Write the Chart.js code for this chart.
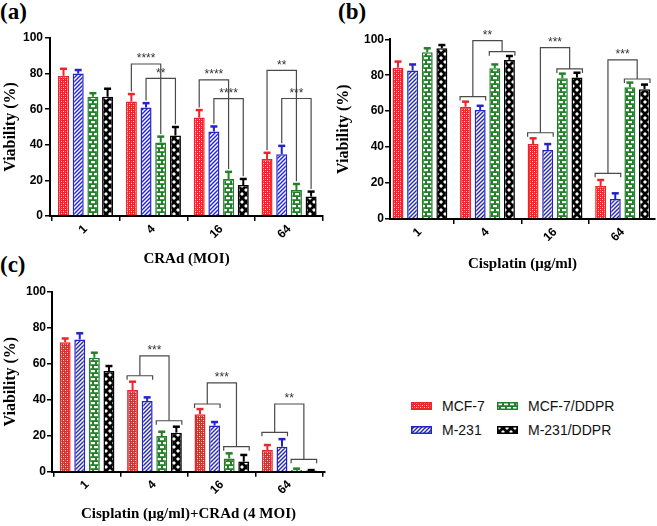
<!DOCTYPE html>
<html><head><meta charset="utf-8">
<script src="https://cdn.jsdelivr.net/npm/chart.js@4.4.1/dist/chart.umd.min.js"></script>
<style>
html,body{margin:0;padding:0;background:#fff}
body{width:657px;height:526px;overflow:hidden;position:relative;font-family:"Liberation Sans",Arial,sans-serif}
canvas.panel{position:absolute}
.plabel{position:absolute;font-family:"Liberation Serif","Times New Roman",serif;font-weight:bold;font-size:23px;line-height:1;color:#000}
.ltext{position:absolute;font-family:"Liberation Sans",Arial,sans-serif;font-size:14px;line-height:1;color:#111;white-space:nowrap}
.lsw{position:absolute}
</style></head>
<body>
<div class="plabel" style="left:0px;top:0px">(a)</div>
<div class="plabel" style="left:338px;top:0px">(b)</div>
<div class="plabel" style="left:0px;top:253px">(c)</div>
<canvas id="ca" class="panel" style="left:0px;top:0px" width="330" height="272"></canvas>
<canvas id="cb" class="panel" style="left:327px;top:0px" width="330" height="275"></canvas>
<canvas id="cc" class="panel" style="left:0px;top:265px" width="330" height="261"></canvas>
<div id="legend"></div>
<script>
// ---------- shared categories / series ----------
const groupLabels = ['1', '4', '16', '64'];
const seriesNames = ['MCF-7', 'M-231', 'MCF-7/DDPR', 'M-231/DDPR'];
const seriesColors = ['#e8262b', '#2323c8', '#23802a', '#000000'];

// ---------- panel (a): CRAd (MOI) ----------
const a_mcf7  = [78.8, 64.3, 55.3, 32.0];
const a_m231  = [80.0, 61.0, 47.5, 34.7];
const a_mcf7d = [67.0, 41.3, 20.8, 14.6];
const a_m231d = [67.0, 45.2, 17.4, 10.9];
const a_mcf7_sd  = [3.9, 4.2, 4.2, 3.5];
const a_m231_sd  = [2.0, 2.4, 2.8, 4.7];
const a_mcf7d_sd = [2.0, 3.3, 4.0, 3.4];
const a_m231d_sd = [4.5, 4.8, 3.4, 2.8];
// significance brackets: group, from series, to series, bracket height, stars
const a_brackets = [
  {g: 1, from: 0, to: 2, y: 85.4, label: '****'},
  {g: 1, from: 1, to: 3, y: 77.3, label: '**'},
  {g: 2, from: 0, to: 2, y: 76.5, label: '****'},
  {g: 2, from: 1, to: 3, y: 65.9, label: '****'},
  {g: 3, from: 0, to: 2, y: 81.8, label: '**'},
  {g: 3, from: 1, to: 3, y: 66.0, label: '***'}
];

// ---------- panel (b): Cisplatin (µg/ml) ----------
const b_mcf7  = [84.2, 62.5, 41.7, 18.4];
const b_m231  = [82.6, 60.7, 38.4, 11.1];
const b_mcf7d = [92.8, 83.9, 78.3, 73.3];
const b_m231d = [95.0, 88.5, 78.7, 72.2];
const b_mcf7_sd  = [3.4, 2.8, 3.2, 3.3];
const b_m231_sd  = [3.4, 2.3, 3.3, 3.2];
const b_mcf7d_sd = [2.2, 2.1, 2.6, 2.6];
const b_m231d_sd = [1.8, 2.2, 2.7, 2.6];
// pair brackets: group, height over (MCF-7,M-231), height over (DDPR pair), connector height, stars
const b_brackets = [
  {g: 1, yA: 68.1, yB: 93.1, top: 99.3, label: '**'},
  {g: 2, yA: 48.0, yB: 83.5, top: 95.4, label: '***'},
  {g: 3, yA: 25.4, yB: 77.9, top: 88.5, label: '***'}
];

// ---------- panel (c): Cisplatin (µg/ml)+CRAd (4 MOI) ----------
const c_mcf7  = [71.9, 45.4, 31.9, 12.0];
const c_m231  = [73.5, 39.3, 25.6, 13.9];
const c_mcf7d = [63.3, 19.8, 7.4, 0.9];
const c_m231d = [55.9, 21.7, 5.6, 0.6];
const c_mcf7_sd  = [2.1, 4.6, 2.9, 2.8];
const c_m231_sd  = [3.4, 2.0, 2.0, 4.2];
const c_mcf7d_sd = [2.8, 2.4, 2.8, 0.8];
const c_m231d_sd = [2.8, 3.3, 3.7, 0.3];
const c_brackets = [
  {g: 1, yA: 53.3, yB: 28.3, top: 64.3, label: '***'},
  {g: 2, yA: 37.6, yB: 13.9, top: 49.4, label: '***'},
  {g: 3, yA: 21.9, yB: 6.9,  top: 37.6, label: '**'}
];

// ---------- fill patterns ----------
function makeTile(kind, color) {
  const t = document.createElement('canvas');
  const c = t.getContext('2d');
  if (kind === 'check') {
    t.width = 4; t.height = 4;
    c.fillStyle = color; c.fillRect(0, 0, 4, 4);
    c.fillStyle = 'rgba(255,255,255,0.85)';
    c.fillRect(1, 1, 1, 1); c.fillRect(3, 3, 1, 1);
    c.fillStyle = 'rgba(255,255,255,0.35)';
    c.fillRect(3, 1, 1, 1); c.fillRect(1, 3, 1, 1);
  } else if (kind === 'diag') {
    t.width = 4; t.height = 4;
    c.fillStyle = '#fff'; c.fillRect(0, 0, 4, 4);
    c.strokeStyle = color; c.lineWidth = 1.4;
    c.beginPath();
    c.moveTo(-1, 5); c.lineTo(5, -1);
    c.moveTo(-3, 3); c.lineTo(3, -3);
    c.moveTo(1, 7); c.lineTo(7, 1);
    c.stroke();
  } else if (kind === 'brick') {
    t.width = 6; t.height = 8;
    c.fillStyle = color; c.fillRect(0, 0, 6, 8);
    c.fillStyle = '#fff';
    c.fillRect(1, 1, 4, 2.2);
    c.fillRect(-2, 5, 4, 2.2); c.fillRect(4, 5, 4, 2.2);
  } else {
    t.width = 8; t.height = 8;
    c.fillStyle = color; c.fillRect(0, 0, 8, 8);
    c.fillStyle = '#fff';
    const dia = (x, y, r) => { c.beginPath(); c.moveTo(x, y - r); c.lineTo(x + r, y); c.lineTo(x, y + r); c.lineTo(x - r, y); c.closePath(); c.fill(); };
    dia(2, 2, 2); dia(6, 6, 2);
  }
  return t;
}
const patternKinds = ['check', 'diag', 'brick', 'dots'];
const patCtx = document.createElement('canvas').getContext('2d');
const patterns = patternKinds.map((k, i) => patCtx.createPattern(makeTile(k, seriesColors[i]), 'repeat'));

// ---------- plugins ----------
const errorBars = {
  id: 'errorBars',
  afterDatasetsDraw(chart) {
    const ctx = chart.ctx, ys = chart.scales.y;
    chart.data.datasets.forEach((ds, i) => {
      chart.getDatasetMeta(i).data.forEach((bar, j) => {
        const yt = ys.getPixelForValue(ds.data[j].y + ds.sd[j]);
        ctx.save();
        ctx.strokeStyle = ds.borderColor;
        ctx.lineWidth = 2;
        ctx.beginPath(); ctx.moveTo(bar.x, bar.y); ctx.lineTo(bar.x, yt); ctx.stroke();
        ctx.lineWidth = 2.5;
        ctx.beginPath(); ctx.moveTo(bar.x - 3.5, yt); ctx.lineTo(bar.x + 3.5, yt); ctx.stroke();
        ctx.restore();
      });
    });
  }
};

function bracketPlugin(items, mode) {
  return {
    id: 'brackets',
    afterDraw(chart) {
      const ctx = chart.ctx, ys = chart.scales.y;
      const bar = (s, g) => chart.getDatasetMeta(s).data[g];
      const errTop = (s, g) => { const d = chart.data.datasets[s]; return d.data[g].y + d.sd[g]; };
      ctx.save();
      ctx.strokeStyle = '#4a4a4a';
      ctx.lineWidth = 1.2;
      ctx.fillStyle = '#333';
      ctx.font = '12px "Liberation Sans", Arial, sans-serif';
      ctx.textAlign = 'center';
      ctx.textBaseline = 'bottom';
      items.forEach(b => {
        let x1, x2, y1, y2;
        const yt = ys.getPixelForValue(b.top !== undefined ? b.top : b.y);
        if (mode === 'span') {
          x1 = bar(b.from, b.g).x; x2 = bar(b.to, b.g).x;
          y1 = ys.getPixelForValue(errTop(b.from, b.g) + 1.5);
          y2 = ys.getPixelForValue(errTop(b.to, b.g) + 1.5);
        } else {
          const pair = (s1, s2, yv) => {
            const l = bar(s1, b.g).x - bar(s1, b.g).width / 2;
            const r = bar(s2, b.g).x + bar(s2, b.g).width / 2;
            const y = ys.getPixelForValue(yv);
            ctx.beginPath();
            ctx.moveTo(l, y + 4); ctx.lineTo(l, y); ctx.lineTo(r, y); ctx.lineTo(r, y + 4);
            ctx.stroke();
            return [(l + r) / 2, y];
          };
          [x1, y1] = pair(0, 1, b.yA);
          [x2, y2] = pair(2, 3, b.yB);
        }
        ctx.beginPath();
        ctx.moveTo(x1, y1); ctx.lineTo(x1, yt); ctx.lineTo(x2, yt); ctx.lineTo(x2, y2);
        ctx.stroke();
        ctx.fillText(b.label, (x1 + x2) / 2, yt + 1);
      });
      ctx.restore();
    }
  };
}

// ---------- chart builder ----------
function buildChart(id, values, sds, brackets, mode, cfg) {
  const axisFont = {family: '"Liberation Sans", Arial, sans-serif', weight: 'bold', size: 12};
  const titleFont = {family: '"Liberation Serif", "Times New Roman", serif', weight: 'bold', size: 15, lineHeight: 1.2};
  return new Chart(document.getElementById(id), {
    type: 'bar',
    data: {
      datasets: seriesNames.map((n, i) => ({
        label: n,
        data: values[i].map((v, j) => ({x: j, y: v})),
        sd: sds[i],
        backgroundColor: patterns[i],
        borderColor: seriesColors[i],
        borderWidth: 1.5,
        borderSkipped: 'start',
        categoryPercentage: 0.866,
        barPercentage: 0.75
      }))
    },
    options: {
      responsive: false,
      animation: false,
      events: [],
      layout: {padding: {top: cfg.top, right: cfg.right, left: 0, bottom: 0}},
      plugins: {legend: {display: false}, tooltip: {enabled: false}},
      scales: {
        x: {
          type: 'linear', min: cfg.xMin, max: cfg.xMax, offset: false,
          afterBuildTicks: s => { s.ticks = groupLabels.map((_, i) => ({value: i})); },
          afterFit: s => { s.height = cfg.xh; },
          ticks: {callback: v => groupLabels[v], minRotation: 45, maxRotation: 45, autoSkip: false,
                  padding: 1, color: '#000', font: axisFont},
          grid: {display: true, drawOnChartArea: false, drawTicks: true, tickLength: 5, color: '#000', lineWidth: 1.5},
          border: {display: true, color: '#000', width: 2},
          title: {display: true, text: cfg.xTitle, color: '#000', font: titleFont, padding: {top: 0, bottom: cfg.xtp}}
        },
        y: {
          min: 0, max: 100,
          afterFit: s => { s.width = cfg.yw; },
          ticks: {stepSize: 20, padding: cfg.ytickPad, color: '#000', font: axisFont},
          grid: {display: true, drawOnChartArea: false, drawTicks: true, tickLength: 5, color: '#000', lineWidth: 1.5},
          border: {display: true, color: '#000', width: 2},
          title: {display: true, text: 'Viability (%)', color: '#000',
                  font: {family: '"Liberation Serif", "Times New Roman", serif', weight: 'bold', size: 16, lineHeight: 1.2},
                  padding: {top: cfg.ytp, bottom: 0}}
        }
      }
    },
    plugins: [errorBars, bracketPlugin(brackets, mode)]
  });
}

buildChart('ca',
  [a_mcf7, a_m231, a_mcf7d, a_m231d],
  [a_mcf7_sd, a_m231_sd, a_mcf7d_sd, a_m231d_sd],
  a_brackets, 'span',
  {xMin: -0.524, xMax: 3.50, top: 38, right: 7, yw: 50, xh: 56, xtp: 4, ytp: 1.4, ytickPad: 2, xTitle: 'CRAd (MOI)'});

buildChart('cb',
  [b_mcf7, b_m231, b_mcf7d, b_m231d],
  [b_mcf7_sd, b_m231_sd, b_mcf7d_sd, b_m231d_sd],
  b_brackets, 'pair',
  {xMin: -0.443, xMax: 3.48, top: 39.3, right: 2, yw: 63, xh: 56, xtp: 2, ytp: 7, ytickPad: 1, xTitle: 'Cisplatin (\u03bcg/ml)'});

buildChart('cc',
  [c_mcf7, c_m231, c_mcf7d, c_m231d],
  [c_mcf7_sd, c_m231_sd, c_mcf7d_sd, c_m231d_sd],
  c_brackets, 'pair',
  {xMin: -0.52, xMax: 3.53, top: 26.7, right: 5, yw: 52, xh: 54.3, xtp: 3, ytp: 1.4, ytickPad: 1, xTitle: 'Cisplatin (\u03bcg/ml)+CRAd (4 MOI)'});

// ---------- legend (2 x 2) ----------
const legend = document.getElementById('legend');
seriesNames.forEach((n, i) => {
  const col = Math.floor(i / 2), row = i % 2;
  const sx = 411 + col * 86, cy = 406 + row * 24;
  const sw = document.createElement('canvas');
  sw.className = 'lsw'; sw.width = 21; sw.height = 8;
  sw.style.left = sx + 'px'; sw.style.top = (cy - 4) + 'px';
  const c = sw.getContext('2d');
  c.fillStyle = patterns[i]; c.fillRect(0, 0, 21, 8);
  c.strokeStyle = seriesColors[i]; c.lineWidth = 1.5; c.strokeRect(0.75, 0.75, 19.5, 6.5);
  legend.appendChild(sw);
  const t = document.createElement('div');
  t.className = 'ltext'; t.textContent = n;
  t.style.left = (sx + 31) + 'px'; t.style.top = (cy - 7) + 'px';
  legend.appendChild(t);
});
</script>
</body></html>
